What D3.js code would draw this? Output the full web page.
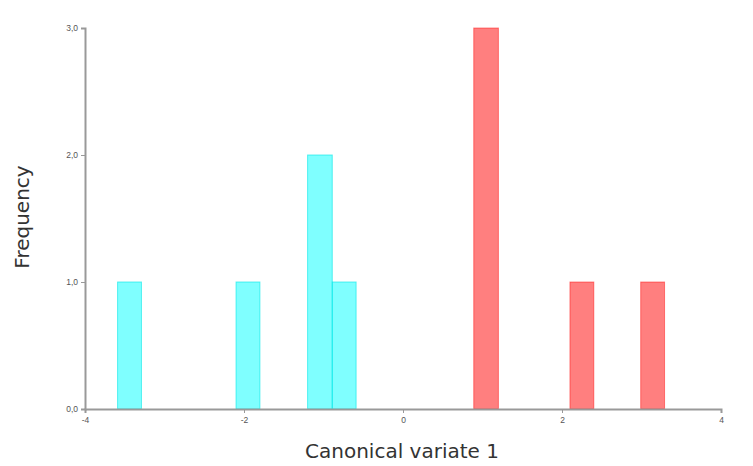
<!DOCTYPE html>
<html>
<head>
<meta charset="utf-8">
<script src="https://cdn.jsdelivr.net/npm/d3@7"></script>
<style>
  body { margin: 0; background: #fff; }
  svg { display: block; font-family: "DejaVu Sans", Verdana, sans-serif; }
  .axis path, .axis line { stroke: #999; }
  .axis text { fill: #555; font-size: 8.5px; }
</style>
</head>
<body>
<svg width="753" height="466"></svg>
<script>
// histogram bins: bin start, bin end, count
const cyanStart = [-3.59, -2.10, -1.20, -0.89];
const cyanEnd   = [-3.29, -1.80, -0.89, -0.59];
const cyanCount = [1, 1, 2, 1];

const redStart = [0.89, 2.10, 2.99];
const redEnd   = [1.20, 2.40, 3.29];
const redCount = [3, 1, 1];

const xTicks = [-4, -2, 0, 2, 4];
const yTicks = [0, 1, 2, 3];

const svg = d3.select("svg");
const plotLeft = 85, plotRight = 721, plotTop = 28, plotBottom = 409;

const x = d3.scaleLinear().domain([-4, 4]).range([plotLeft, plotRight]);
const y = d3.scaleLinear().domain([0, 3]).range([plotBottom, plotTop]);

function drawBars(starts, ends, counts, fill, stroke) {
    const bins = starts.map((s, i) => ({ x0: s, x1: ends[i], n: counts[i] }));
    svg.append("g").selectAll("rect")
        .data(bins)
        .enter().append("rect")
        .attr("x", d => x(d.x0))
        .attr("width", d => x(d.x1) - x(d.x0))
        .attr("y", d => y(d.n))
        .attr("height", d => y(0) - y(d.n))
        .attr("fill", fill)
        .attr("stroke", stroke)
        .attr("stroke-width", 1);
}

drawBars(cyanStart, cyanEnd, cyanCount, "rgba(0,255,255,0.5)", "rgba(0,230,230,0.6)");
drawBars(redStart, redEnd, redCount, "rgba(255,0,0,0.5)", "rgba(255,0,0,0.45)");

const fmt = d3.format(".1f");

const xAxis = svg.append("g")
    .attr("class", "axis")
    .attr("transform", `translate(0,${plotBottom})`)
    .call(d3.axisBottom(x).tickValues(xTicks).tickFormat(d => String(d))
        .tickSize(4).tickSizeOuter(4).tickPadding(4));
xAxis.select(".domain").attr("stroke-width", 2);

const yAxis = svg.append("g")
    .attr("class", "axis")
    .attr("transform", `translate(${plotLeft},0)`)
    .call(d3.axisLeft(y).tickValues(yTicks).tickFormat(d => fmt(d).replace(".", ","))
        .tickSize(4).tickSizeOuter(4).tickPadding(3));
yAxis.select(".domain").attr("stroke-width", 2);

svg.append("text")
    .attr("x", (plotLeft + plotRight) / 2 - 1)
    .attr("y", 458)
    .attr("text-anchor", "middle")
    .attr("font-size", 20)
    .attr("fill", "#333")
    .text("Canonical variate 1");

svg.append("text")
    .attr("transform", "translate(29,217) rotate(-90)")
    .attr("text-anchor", "middle")
    .attr("font-size", 20)
    .attr("fill", "#333")
    .text("Frequency");
</script>
</body>
</html>
